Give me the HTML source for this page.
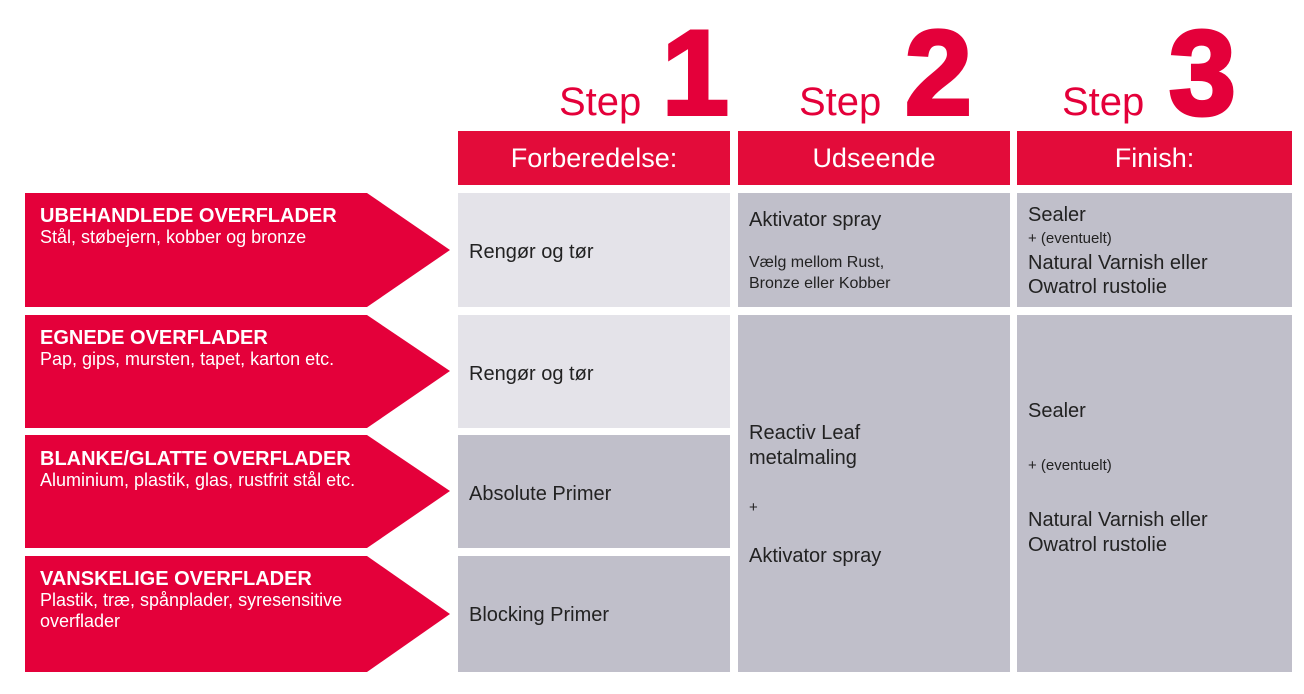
<!DOCTYPE html>
<html><head><meta charset="utf-8"><style>
body{margin:0;width:1304px;height:694px;background:#fff;position:relative;overflow:hidden;font-family:"Liberation Sans",sans-serif}
div{position:absolute;box-sizing:border-box}
.h{background:#e30c3a;color:#fff;font-size:27px;text-align:center;line-height:54px;top:131px;height:54px}
.l{background:#e4e3e9}
.d{background:#c0bfca}
.c{font-size:20px;color:#222;padding-left:11px}
.st{color:#e4003a;font-size:40px;top:80px}
.n{color:#e4003a;font-size:120px;font-weight:bold;top:13px;line-height:120px;-webkit-text-stroke:4px #e4003a}
.t{color:#fff;left:40px;width:380px}
.t b{font-size:20px;display:block;line-height:22px}
.t span{font-size:18px;line-height:21px;display:block}
</style></head><body>
<div class="st" style="left:559px">Step</div><div class="n" style="left:662px">1</div>
<div class="st" style="left:799px">Step</div><div class="n" style="left:905px">2</div>
<div class="st" style="left:1062px">Step</div><div class="n" style="left:1169px">3</div>
<div class="h" style="left:458px;width:272px">Forberedelse:</div>
<div class="h" style="left:738px;width:272px">Udseende</div>
<div class="h" style="left:1017px;width:275px">Finish:</div>
<svg style="position:absolute;left:0;top:0" width="460" height="694">
<polygon fill="#e4003a" points="25,193 367,193 450,250 367,307 25,307"/>
<polygon fill="#e4003a" points="25,315 367,315 450,371 367,428 25,428"/>
<polygon fill="#e4003a" points="25,435 367,435 450,491 367,548 25,548"/>
<polygon fill="#e4003a" points="25,556 367,556 450,614 367,672 25,672"/>
</svg>
<div class="t" style="top:205px"><b>UBEHANDLEDE OVERFLADER</b><span>Stål, støbejern, kobber og bronze</span></div>
<div class="t" style="top:327px"><b>EGNEDE OVERFLADER</b><span>Pap, gips, mursten, tapet, karton etc.</span></div>
<div class="t" style="top:448px"><b>BLANKE/GLATTE OVERFLADER</b><span>Aluminium, plastik, glas, rustfrit stål etc.</span></div>
<div class="t" style="top:568px;width:350px"><b>VANSKELIGE OVERFLADER</b><span>Plastik, træ, spånplader, syresensitive overflader</span></div>
<div class="l c" style="left:458px;top:193px;width:272px;height:114px;padding-top:48px">Rengør og tør</div>
<div class="l c" style="left:458px;top:315px;width:272px;height:113px;padding-top:48px">Rengør og tør</div>
<div class="d c" style="left:458px;top:435px;width:272px;height:113px;padding-top:48px">Absolute Primer</div>
<div class="d c" style="left:458px;top:556px;width:272px;height:116px;padding-top:48px">Blocking Primer</div>
<div class="d c" style="left:738px;top:193px;width:272px;height:114px;padding-top:15px;line-height:24px">Aktivator spray<div style="position:static;font-size:16px;line-height:21px;margin-top:20px">Vælg mellom Rust,<br>Bronze eller Kobber</div></div>
<div class="d c" style="left:1017px;top:193px;width:275px;height:114px;padding-top:10px;line-height:24px">Sealer<div style="position:static;font-size:15px;line-height:24px">+ (eventuelt)</div>Natural Varnish eller<br>Owatrol rustolie</div>
<div class="d c" style="left:738px;top:315px;width:272px;height:357px;padding-top:106px;line-height:25px">Reactiv Leaf<br>metalmaling<div style="position:static;font-size:15px;margin:24px 0 24px">+</div>Aktivator spray</div>
<div class="d c" style="left:1017px;top:315px;width:275px;height:357px;padding-top:84px;line-height:25px">Sealer<div style="position:static;font-size:15px;margin:29px 0 30px">+ (eventuelt)</div>Natural Varnish eller<br>Owatrol rustolie</div>
</body></html>
